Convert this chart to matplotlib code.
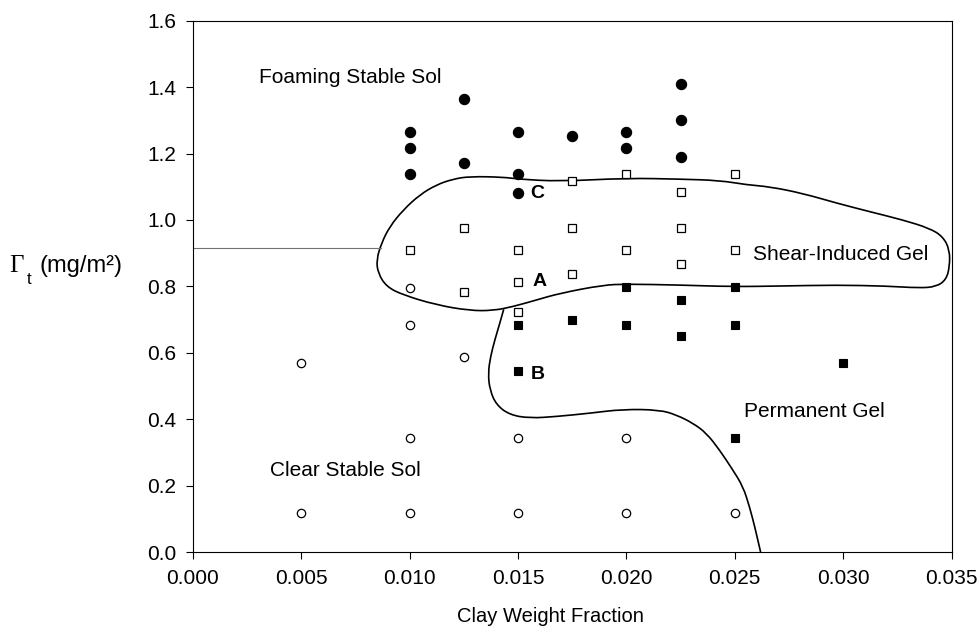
import matplotlib
matplotlib.use('Agg')
import matplotlib.pyplot as plt
from matplotlib.path import Path
from matplotlib.patches import PathPatch

plt.rcParams['font.family'] = ['Liberation Sans', 'DejaVu Sans']

# foaming stable sol (filled circles)
fss_x = [0.010, 0.010, 0.010, 0.0125, 0.0125, 0.015, 0.015, 0.015,
         0.0175, 0.020, 0.020, 0.0225, 0.0225, 0.0225]
fss_y = [1.266, 1.218, 1.138, 1.365, 1.171, 1.266, 1.138, 1.082,
         1.253, 1.266, 1.218, 1.408, 1.300, 1.191]

# clear stable sol (open circles)
css_x = [0.005, 0.005, 0.010, 0.010, 0.010, 0.010, 0.0125,
         0.015, 0.015, 0.020, 0.020, 0.025]
css_y = [0.570, 0.119, 0.796, 0.684, 0.344, 0.119, 0.587,
         0.344, 0.119, 0.344, 0.119, 0.119]

# shear-induced gel (open squares)
sig_x = [0.010, 0.0125, 0.0125, 0.015, 0.015, 0.015, 0.0175, 0.0175, 0.0175,
         0.020, 0.020, 0.0225, 0.0225, 0.0225, 0.025, 0.025]
sig_y = [0.910, 0.975, 0.782, 0.910, 0.814, 0.724, 1.116, 0.975, 0.837,
         1.138, 0.910, 1.083, 0.975, 0.868, 1.138, 0.910]

# permanent gel (filled squares)
pg_x = [0.015, 0.015, 0.0175, 0.020, 0.020, 0.0225, 0.0225,
        0.025, 0.025, 0.025, 0.030]
pg_y = [0.684, 0.545, 0.699, 0.798, 0.684, 0.759, 0.651,
        0.798, 0.684, 0.343, 0.570]

# hand drawn boundary around the shear-induced gel region (closed)
sig_bx = [0.00870, 0.00908, 0.00970, 0.01047, 0.01124, 0.01200, 0.01277, 0.01431,
          0.01500, 0.01692, 0.02000, 0.02246, 0.02430, 0.02553, 0.02661, 0.02813,
          0.02968, 0.03122, 0.03275, 0.03398, 0.03460, 0.03491, 0.03491, 0.03475,
          0.03429, 0.03352, 0.03199, 0.02968, 0.02707, 0.02491, 0.02246, 0.02000,
          0.01892, 0.01692, 0.01585, 0.01477, 0.01385, 0.01277, 0.01124, 0.00970,
          0.00893, 0.00854, 0.00847]
sig_by = [0.930, 0.980, 1.030, 1.076, 1.106, 1.123, 1.131, 1.129,
          1.123, 1.116, 1.126, 1.123, 1.119, 1.106, 1.100, 1.080,
          1.051, 1.025, 1.000, 0.975, 0.950, 0.910, 0.860, 0.820,
          0.799, 0.795, 0.801, 0.804, 0.801, 0.799, 0.804, 0.807,
          0.804, 0.779, 0.759, 0.739, 0.727, 0.727, 0.744, 0.774,
          0.799, 0.840, 0.880]

# boundary of the permanent gel region
pg_bx = [0.01434, 0.01416, 0.01393, 0.01373, 0.01362, 0.01370, 0.01400, 0.01462,
         0.01554, 0.01677, 0.01831, 0.01984, 0.02153, 0.02230, 0.02307, 0.02369,
         0.02430, 0.02491, 0.02538, 0.02568, 0.02592, 0.02615, 0.02619]
pg_by = [0.731, 0.689, 0.639, 0.588, 0.538, 0.488, 0.443, 0.413,
         0.403, 0.408, 0.418, 0.430, 0.428, 0.413, 0.388, 0.358,
         0.307, 0.247, 0.197, 0.136, 0.076, 0.011, 0.0]

# reference line from the y axis
ref_x = [0.0, 0.0087]
ref_y = [0.917, 0.917]

xticks = [0.000, 0.005, 0.010, 0.015, 0.020, 0.025, 0.030, 0.035]
yticks = [0.0, 0.2, 0.4, 0.6, 0.8, 1.0, 1.2, 1.4, 1.6]


def smooth_path(xs, ys, closed=False):
    # quadratic bezier through the traced points, points used as controls
    pts = list(zip(xs, ys))
    if closed:
        pts = pts + pts[:2]
    mid = lambda a, b: ((a[0] + b[0]) / 2, (a[1] + b[1]) / 2)
    if closed:
        verts = [mid(pts[0], pts[1])]
    else:
        verts = [pts[0]]
    codes = [Path.MOVETO]
    last = len(pts) - 1
    for i in range(1, last):
        end = mid(pts[i], pts[i + 1])
        if not closed and i == last - 1:
            end = pts[last]
        verts += [pts[i], end]
        codes += [Path.CURVE3, Path.CURVE3]
    return Path(verts, codes)


fig = plt.figure(figsize=(9.79, 6.37), dpi=100)
ax = fig.add_axes([0.197, 0.1334, 0.775, 0.8341])

ax.plot(ref_x, ref_y, color='0.45', lw=0.8)
ax.add_patch(PathPatch(smooth_path(sig_bx, sig_by, closed=True),
                       fc='none', ec='k', lw=1.2))
ax.add_patch(PathPatch(smooth_path(pg_bx, pg_by), fc='none', ec='k', lw=1.2))

ax.plot(fss_x, fss_y, 'o', ms=7.4, mfc='k', mec='k', mew=0.8, ls='none')
ax.plot(css_x, css_y, 'o', ms=6.0, mfc='white', mec='k', mew=0.9, ls='none')
ax.plot(sig_x, sig_y, 's', ms=5.3, mfc='white', mec='k', mew=0.9, ls='none')
ax.plot(pg_x, pg_y, 's', ms=6.0, mfc='k', mec='k', mew=0.8, ls='none')

fs = 15
ax.text(0.00304, 1.428, 'Foaming Stable Sol', fontsize=fs, va='center')
ax.text(0.02584, 0.895, 'Shear-Induced Gel', fontsize=fs, va='center')
ax.text(0.02542, 0.423, 'Permanent Gel', fontsize=fs, va='center')
ax.text(0.00355, 0.247, 'Clear Stable Sol', fontsize=fs, va='center')
ax.text(0.01566, 0.814, 'A', fontsize=14, fontweight='bold', va='center')
ax.text(0.01559, 0.535, 'B', fontsize=14, fontweight='bold', va='center')
ax.text(0.01557, 1.081, 'C', fontsize=14, fontweight='bold', va='center')

ax.set_xlim(0, 0.035)
ax.set_ylim(0, 1.6)
ax.set_xticks(xticks)
ax.set_yticks(yticks)
ax.set_xticklabels(['%.3f' % t for t in xticks])
ax.set_yticklabels(['%.1f' % t for t in yticks])
ax.tick_params(direction='out', length=5, width=0.8, labelsize=fs, pad=7,
               top=False, right=False)
for s in ax.spines.values():
    s.set_linewidth(0.8)

# axis titles
fig.text(550 / 979, 1 - 617 / 637, 'Clay Weight Fraction', fontsize=14.5,
         ha='center', va='center')
fig.text(9 / 979, 1 - 266 / 637, '\u0393', fontsize=18, ha='left',
         va='center', family='Liberation Serif')
fig.text(27 / 979, 1 - 279 / 637, 't', fontsize=12, ha='left', va='center')
fig.text(40 / 979, 1 - 266 / 637, '(mg/m\u00b2)', fontsize=17, ha='left',
         va='center')

fig.savefig('out.png', dpi=100)
